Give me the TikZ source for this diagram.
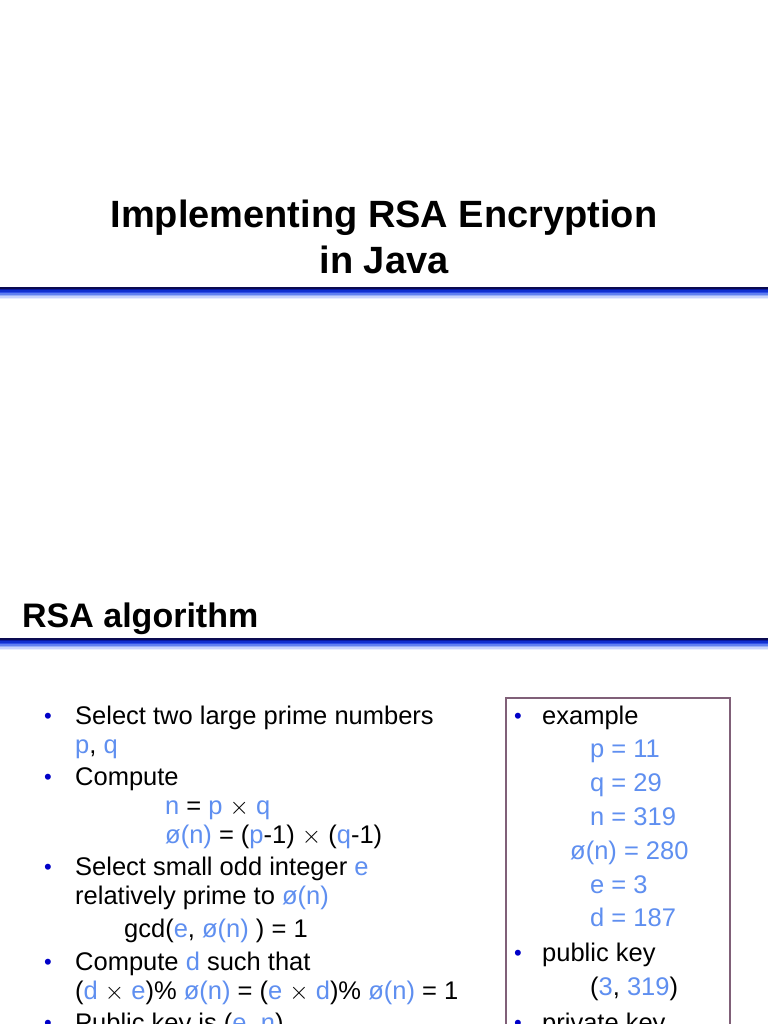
\documentclass[tikz,border=0pt]{standalone}
\usepackage{fontspec}
\setmainfont{Liberation Sans}
\definecolor{lb}{HTML}{5F8FF0}
\definecolor{bul}{HTML}{0000C8}
\definecolor{boxc}{HTML}{806078}
\tikzset{txt/.style={anchor=base west,inner sep=0pt,font=\fontsize{25.5}{28}\selectfont},
bl/.style={anchor=base west,inner sep=0pt,text=bul,font=\fontsize{22}{24}\selectfont},
ttl/.style={inner sep=0pt,font=\fontsize{38}{40}\selectfont\bfseries}}
\newcommand{\B}[1]{\textcolor{lb}{#1}}
\newcommand{\gradline}[1]{%
\foreach \i/\c in {0/0A0A50,1.5/0A1AA0,3/1030D0,4.5/3050E8,6/6080F0,7.5/98B0F8,9/C8D4FC,10.5/E8EEFE}{
\definecolor{gc}{HTML}{\c}\fill[gc] (0,#1+\i) rectangle (768,#1+\i+1.6);}}
\begin{document}
\begin{tikzpicture}[x=1pt,y=-1pt]
\useasboundingbox (0,0) rectangle (768,1024);
\clip (0,0) rectangle (768,1024);
\fill[white] (0,0) rectangle (768,1024);
\node[ttl,anchor=base] (t1) at (384,227) {Implementing RSA Encryption};
\node[ttl,anchor=base] (t2) at (384,273) {in Java};
\gradline{287}
\node[ttl,anchor=base west,font=\fontsize{34}{40}\selectfont\bfseries] (t3) at (22,627) {RSA algorithm};
\gradline{638}
\draw[boxc,line width=1.5pt] (506,1040) -- (506,698) -- (730,698) -- (730,1040);
% left column
\node[bl] at (44,723) {•};
\node[txt] (a1) at (75,724) {Select two large prime numbers};
\node[txt] at (75,753) {\B{p}, \B{q}};
\node[bl] at (44,784) {•};
\node[txt] at (75,785) {Compute};
\node[txt] at (165,814) {\B{n} = \B{p} $\times$ \B{q}};
\node[txt] at (165,843) {\B{ø(n)} = (\B{p}-1) $\times$ (\B{q}-1)};
\node[bl] at (44,874) {•};
\node[txt] at (75,875) {Select small odd integer \B{e}};
\node[txt] at (75,904) {relatively prime to \B{ø(n)}};
\node[txt] at (124,937) {gcd(\B{e}, \B{ø(n)} ) = 1};
\node[bl] at (44,969) {•};
\node[txt] at (75,970) {Compute \B{d} such that};
\node[txt] at (75,999) {(\B{d} $\times$ \B{e})\% \B{ø(n)} = (\B{e} $\times$ \B{d})\% \B{ø(n)} = 1};
\node[bl] at (44,1030) {•};
\node[txt] at (75,1031) {Public key is (\B{e}, \B{n})};
% right column
\node[bl] at (514,723) {•};
\node[txt] at (542,724) {example};
\node[txt] at (590,757) {\B{p = 11}};
\node[txt] at (590,791) {\B{q = 29}};
\node[txt] at (590,825) {\B{n = 319}};
\node[txt] at (570,859) {\B{ø(n) = 280}};
\node[txt] at (590,893) {\B{e = 3}};
\node[txt] at (590,926) {\B{d = 187}};
\node[bl] at (514,960) {•};
\node[txt] at (542,961) {public key};
\node[txt] at (590,995) {(\B{3}, \B{319})};
\node[bl] at (514,1030) {•};
\node[txt] at (542,1031) {private key};
\end{tikzpicture}
\end{document}
